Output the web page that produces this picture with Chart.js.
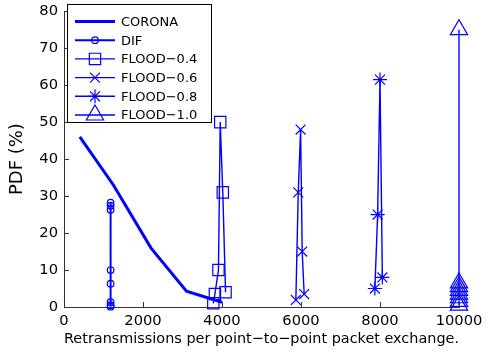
<!DOCTYPE html>
<html><head><meta charset="utf-8">
<script src="https://cdn.jsdelivr.net/npm/chart.js@4.4.1/dist/chart.umd.min.js"></script>
<style>html,body{margin:0;padding:0;background:#fff}#wrap{width:495px;height:354px}</style>
</head><body><div id="wrap"><canvas id="c" width="495" height="354"></canvas></div>
<script>
// ---- data ----
const xTickValues = [0, 2000, 4000, 6000, 8000, 10000];
const yTickValues = [0, 10, 20, 30, 40, 50, 60, 70, 80];
const seriesLabels = ['CORONA', 'DIF', 'FLOOD\u22120.4', 'FLOOD\u22120.6', 'FLOOD\u22120.8', 'FLOOD\u22121.0'];

const coronaX = [400, 1250, 2200, 3100, 4000];
const coronaY = [46, 33, 16, 4.3, 1.3];

const difX = [1180, 1180, 1180, 1180, 1180, 1180, 1180, 1180];
const difY = [0.1, 0.5, 1.3, 6.3, 10, 26.3, 27.4, 28.2];

const flood04X = [3780, 3820, 3910, 3955, 4020, 4090];
const flood04Y = [1.0, 3.5, 10, 50, 31, 4];

const flood06X = [5870, 5930, 5990, 6030, 6080];
const flood06Y = [1.9, 31, 48, 15, 3.5];

const flood08X = [7870, 7940, 8000, 8060];
const flood08Y = [5, 25, 61.5, 8];

const flood10X = [10000, 10000, 10000, 10000, 10000, 10000, 10000, 10000];
const flood10Y = [0.5, 1.5, 2.5, 3.5, 4.5, 5.5, 6.5, 75];

const xTitle = 'Retransmissions per point\u2212to\u2212point packet exchange.';
const yTitle = 'PDF (%)';

// ---- build ----
const BLUE = 'rgb(0,0,255)';
const FONT = "'DejaVu Sans', 'Liberation Sans', Arial, sans-serif";
function pts(xs, ys) { return xs.map((x, i) => ({ x: x, y: ys[i] })); }
function ds(label, xs, ys, style, radius, lw) {
  return {
    label: label, data: pts(xs, ys), showLine: true, tension: 0,
    borderColor: BLUE, borderWidth: lw, backgroundColor: BLUE,
    pointStyle: style, pointRadius: radius, pointHoverRadius: radius,
    pointBorderColor: BLUE, pointBackgroundColor: 'rgba(0,0,0,0)',
    pointBorderWidth: 1.2, clip: false
  };
}
const datasets = [
  ds(seriesLabels[0], coronaX, coronaY, false, 0, 3),
  ds(seriesLabels[1], difX, difY, 'circle', 3.3, 2),
  ds(seriesLabels[2], flood04X, flood04Y, 'rect', 8, 1.4),
  ds(seriesLabels[3], flood06X, flood06Y, 'crossRot', 7, 1.4),
  ds(seriesLabels[4], flood08X, flood08Y, 'star', 7, 1.4),
  ds(seriesLabels[5], flood10X, flood10Y, 'triangle', 10, 1.4)
];

function drawMarker(ctx, style, r, x, y) {
  if (!style) return;
  if (Chart.helpers && Chart.helpers.drawPoint) {
    Chart.helpers.drawPoint(ctx, { pointStyle: style, radius: r, rotation: 0, borderWidth: 1.2 }, x, y);
  }
}

const insideTicks = {
  id: 'insideTicks',
  afterDatasetsDraw(chart) {
    const ctx = chart.ctx, xs = chart.scales.x, ys = chart.scales.y;
    const a = chart.chartArea;
    ctx.save();
    ctx.strokeStyle = '#333'; ctx.lineWidth = 1;
    ctx.beginPath();
    xTickValues.forEach(v => { const px = Math.round(xs.getPixelForValue(v)) + 0.5; ctx.moveTo(px, a.bottom); ctx.lineTo(px, a.bottom - 5); });
    yTickValues.forEach(v => { const py = Math.round(ys.getPixelForValue(v)) + 0.5; ctx.moveTo(a.left, py); ctx.lineTo(a.left + 5, py); });
    ctx.stroke();
    ctx.restore();
  }
};

const boxLegend = {
  id: 'boxLegend',
  afterDraw(chart) {
    const ctx = chart.ctx;
    const bx = 67, by = 4, bw = 144, bh = 118;
    ctx.save();
    ctx.fillStyle = '#fff'; ctx.fillRect(bx, by, bw, bh);
    ctx.strokeStyle = '#000'; ctx.lineWidth = 1;
    ctx.strokeRect(bx + 0.5, by + 0.5, bw, bh);
    chart.data.datasets.forEach((d, i) => {
      const y = 21.5 + i * 18.7;
      ctx.strokeStyle = BLUE; ctx.lineWidth = d.borderWidth;
      ctx.beginPath(); ctx.moveTo(75, y); ctx.lineTo(115, y); ctx.stroke();
      ctx.lineWidth = 1.2; ctx.fillStyle = 'rgba(0,0,0,0)';
      drawMarker(ctx, d.pointStyle, d.pointRadius, 95, y);
      ctx.fillStyle = '#000'; ctx.font = '13px ' + FONT;
      ctx.textAlign = 'left'; ctx.textBaseline = 'middle';
      ctx.fillText(d.label, 121, y + 1);
    });
    ctx.restore();
  }
};

new Chart(document.getElementById('c'), {
  type: 'scatter',
  data: { datasets: datasets },
  plugins: [insideTicks, boxLegend],
  options: {
    responsive: false, animation: false, devicePixelRatio: 1,
    layout: { padding: { left: 0, right: 36, top: 7, bottom: 0 } },
    plugins: { legend: { display: false }, tooltip: { enabled: false } },
    scales: {
      x: {
        type: 'linear', min: 0, max: 10000,
        afterBuildTicks: s => { s.ticks = xTickValues.map(v => ({ value: v })); },
        afterFit: s => { s.height = 47; s.paddingLeft = 0; s.paddingRight = 0; },
        ticks: { color: '#000', font: { family: FONT, size: 14.7 }, padding: 5, maxRotation: 0, autoSkip: false, callback: v => String(v) },
        grid: { drawOnChartArea: false, drawTicks: false },
        border: { color: '#333', width: 1 },
        title: { display: true, text: xTitle, color: '#000', font: { family: FONT, size: 14.7 }, padding: { top: 0, bottom: 6 } }
      },
      y: {
        type: 'linear', min: 0, max: 80,
        afterBuildTicks: s => { s.ticks = yTickValues.map(v => ({ value: v })); },
        afterFit: s => { s.width = 64; s.paddingTop = 0; s.paddingBottom = 0; },
        ticks: { color: '#000', font: { family: FONT, size: 14.7 }, padding: 6, autoSkip: false, callback: v => String(v) },
        grid: { drawOnChartArea: false, drawTicks: false },
        border: { color: '#333', width: 1 },
        title: { display: true, text: yTitle, color: '#000', font: { family: FONT, size: 18 }, padding: { top: 7, bottom: 0 } }
      }
    }
  }
});
</script>
</body></html>
